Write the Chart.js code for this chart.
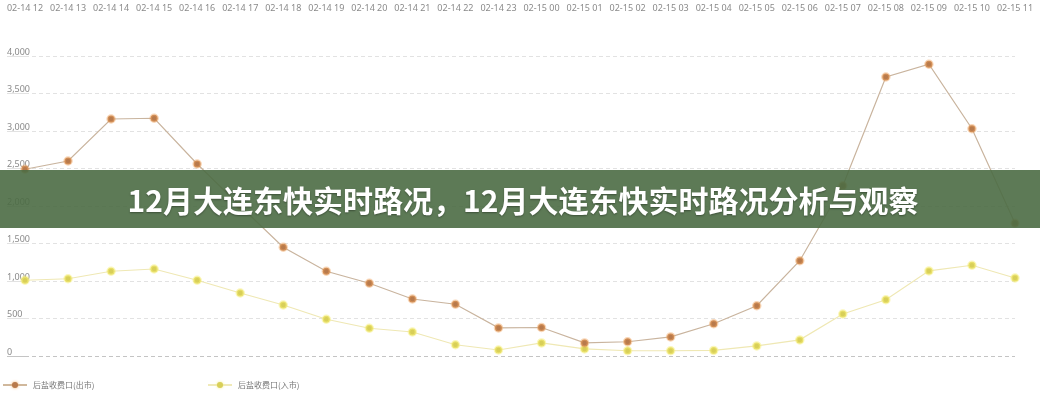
<!DOCTYPE html>
<html>
<head>
<meta charset="utf-8">
<script src="https://cdn.jsdelivr.net/npm/chart.js@4"></script>
<style>
  html, body { margin: 0; padding: 0; background: #fff; }
  #wrap { position: relative; width: 1040px; height: 400px; overflow: hidden; }
  #chart { position: absolute; left: 0; top: 0; }
  #banner {
    position: absolute; left: 0; top: 170px; width: 1040px; height: 58px;
    background: rgba(75, 108, 68, 0.9);
    color: #fff; font: bold 30px "Noto Sans CJK SC", sans-serif;
    line-height: 58px; text-align: center; text-indent: 6px;
    text-shadow: 0 1px 2px rgba(0,0,0,0.35);
  }
  .legend-item {
    position: absolute; top: 379px; height: 12px;
    font: 8px "Noto Sans CJK SC", sans-serif; color: #777; line-height: 12px;
  }
  .legend-item .mark { position: absolute; left: 0; top: 5px; width: 24px; height: 2px; }
  .legend-item .dot { position: absolute; left: 9px; top: 3px; width: 6px; height: 6px; border-radius: 50%; }
  .legend-item span.txt { position: absolute; left: 30px; top: 0; white-space: nowrap; }
</style>
</head>
<body>
<div id="wrap">
  <canvas id="chart" width="1040" height="400"></canvas>
  <div id="banner">12月大连东快实时路况，12月大连东快实时路况分析与观察</div>
  <div class="legend-item" style="left:3px">
    <div class="mark" style="background:#d0b89c"></div><div class="dot" style="background:#b87a4c; box-shadow:0 0 3px #f0a860"></div>
    <span class="txt">后盐收费口(出市)</span>
  </div>
  <div class="legend-item" style="left:208px">
    <div class="mark" style="background:#f0eab8"></div><div class="dot" style="background:#d8cf58; box-shadow:0 0 3px #f5ee80"></div>
    <span class="txt">后盐收费口(入市)</span>
  </div>
</div>
<script>
const hours = [
  "02-14 12", "02-14 13", "02-14 14", "02-14 15", "02-14 16", "02-14 17",
  "02-14 18", "02-14 19", "02-14 20", "02-14 21", "02-14 22", "02-14 23",
  "02-15 00", "02-15 01", "02-15 02", "02-15 03", "02-15 04", "02-15 05",
  "02-15 06", "02-15 07", "02-15 08", "02-15 09", "02-15 10", "02-15 11",
];

// 后盐收费口(出市)
const outbound = [
  2490, 2600, 3160, 3170, 2560, 2000, 1450, 1130, 970, 760, 690, 375,
  380, 175, 190, 255, 430, 670, 1270, 2270, 3720, 3890, 3030, 1770,
];

// 后盐收费口(入市)
const inbound = [
  1010, 1030, 1130, 1160, 1010, 840, 680, 490, 370, 320, 150, 80,
  175, 95, 70, 70, 75, 135, 215, 560, 750, 1135, 1210, 1040,
];

const yTicks = { min: 0, max: 4000, step: 500 };

new Chart(document.getElementById("chart"), {
  type: "line",
  data: {
    labels: hours,
    datasets: [
      {
        label: "后盐收费口(出市)",
        data: outbound,
        borderColor: "#c9b49e",
        borderWidth: 1.2,
        pointBackgroundColor: "#b87a4c",
        pointBorderColor: "rgba(240,165,95,0.45)",
        pointBorderWidth: 2.5,
        pointRadius: 3.5,
        tension: 0,
      },
      {
        label: "后盐收费口(入市)",
        data: inbound,
        borderColor: "#efe8b4",
        borderWidth: 1.2,
        pointBackgroundColor: "#d8cf58",
        pointBorderColor: "rgba(248,240,120,0.5)",
        pointBorderWidth: 2.5,
        pointRadius: 3.5,
        tension: 0,
      },
    ],
  },
  options: {
    responsive: false,
    animation: false,
    layout: { autoPadding: false, padding: { left: 7, right: 25, top: 0, bottom: 44 } },
    plugins: { legend: { display: false }, tooltip: { enabled: false } },
    scales: {
      x: {
        position: "top",
        grid: { display: false, drawTicks: false },
        border: { display: false },
        ticks: {
          autoSkip: false,
          maxRotation: 0,
          padding: 42,
          color: "#8a8a8a",
          font: { size: 9, family: "Noto Sans" },
        },
        afterFit: (scale) => {
          scale.height = 56;
          scale.paddingLeft = 0;
          scale.paddingRight = 0;
        },
      },
      y: {
        min: yTicks.min,
        max: yTicks.max,
        border: { display: false, dash: [4, 3] },
        grid: {
          color: (ctx) => (ctx.index === 0 ? "#c4c4c4" : "#e2e2e2"),
          tickLength: 18,
          lineWidth: 1,
        },
        ticks: {
          stepSize: yTicks.step,
          mirror: true,
          crossAlign: "near",
          padding: -18,
          labelOffset: -4,
          color: "#8a8a8a",
          font: { size: 9, family: "Noto Sans" },
        },
        afterFit: (scale) => {
          scale.width = 18;
          scale.paddingTop = 0;
          scale.paddingBottom = 0;
        },
      },
    },
  },
});
</script>
</body>
</html>
